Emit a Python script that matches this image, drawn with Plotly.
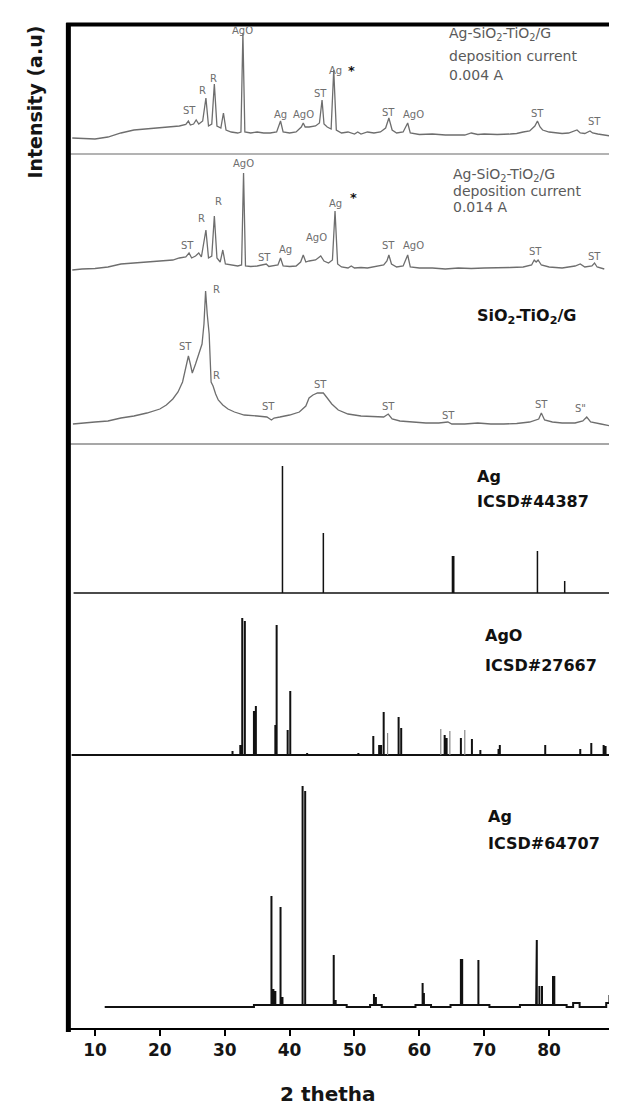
import plotly.graph_objects as go

# ---------------- data (2-theta in degrees, intensity in a.u.) ----------------
# Ag-SiO2-TiO2/G, deposition current 0.004 A
tt_004 = [6.5, 8, 10, 12, 14, 16, 18, 20, 22, 23, 24, 24.4, 24.7, 25.2, 25.6, 26, 26.6, 27.1, 27.5, 28.0,
          28.4, 28.8, 29.4, 29.8, 30.2, 31, 32, 32.5, 32.8, 33.1, 34, 35, 36, 37, 38, 38.6, 39.0, 40, 41, 41.8,
          42.1, 42.4, 43, 44, 44.6, 45.0, 45.3, 45.8, 46.4, 46.8, 47.2, 48, 49, 50, 50.5, 51, 52, 53, 54, 54.8,
          55.3, 55.8, 56.5, 57.5, 58.2, 58.6, 60, 62, 64, 66, 67, 68, 68.5, 69, 70, 72, 74, 75, 76, 77,
          77.8, 78.2, 78.6, 79, 80, 81, 82, 83, 83.8, 84.3, 84.8, 85.5, 86.3, 86.7, 87.5, 89.5]
int_004 = [16, 15.5, 15, 17, 21, 24, 25, 26, 27, 28, 29.5, 33, 29, 30, 34, 30, 33, 56, 28, 30,
           70, 28, 26, 41, 24, 22, 21, 22, 121, 22, 21, 22, 21, 21, 22, 33, 22, 21, 22, 27,
           31, 27, 27, 28, 31, 54, 30, 27, 25, 84, 24, 21, 22, 20, 22, 20, 22, 21, 22, 26,
           36, 24, 21, 22, 31, 21, 19.5, 20, 19, 19.5, 19, 21, 20, 19.5, 20, 19.5, 20, 20.5, 22, 23,
           28, 33, 27, 24, 22, 21, 20.5, 21, 23, 24, 21, 20.5, 23, 21, 20, 18]

# Ag-SiO2-TiO2/G, deposition current 0.014 A
tt_014 = [6.5, 8, 10, 12, 14, 16, 18, 20, 22, 23, 24, 24.5, 24.9, 25.5, 26, 26.4, 27.1, 27.5, 28, 28.4,
          28.8, 29.3, 29.7, 30.1, 31, 32, 32.6, 32.9, 33.2, 34, 35, 36.4, 36.8, 37.5, 38.2, 38.6, 39, 40, 41, 41.7,
          42.1, 42.5, 43, 44, 44.8, 45.3, 46, 46.6, 47, 47.4, 48, 49, 49.5, 50, 51, 52, 53, 54.5, 55, 55.3,
          55.7, 56.5, 57.5, 58.2, 58.6, 60, 62, 64, 66, 68, 70, 72, 74, 76, 77.3, 77.7, 78.0, 78.3, 78.8, 80,
          82, 84, 84.8, 85.5, 86.6, 87, 87.4, 88.5]
int_014 = [18, 19, 19.5, 21, 24, 25, 26, 26.5, 28, 30, 31, 35, 30, 32, 35, 31, 58, 30, 32, 72,
           30, 26, 38, 24, 23, 22, 23, 115, 22, 21.5, 22, 24, 21.5, 22, 23, 30, 22, 21.5, 22, 26,
           33, 26, 27, 28, 32, 27, 25, 28, 77, 24, 21, 20, 22, 20, 20.5, 20, 21, 23, 27, 33,
           24, 21, 22, 33, 21, 20, 20, 19, 20, 19.5, 20, 20, 20.5, 21, 23, 28, 26, 28, 23, 21,
           20, 22, 24, 21, 22, 25, 21, 19]

# SiO2-TiO2/G
tt_stg = [6.6, 8, 10, 12, 14, 16, 18, 20, 21, 22, 22.8, 23.5, 24.0, 24.4, 24.7, 25.0, 25.5, 26.0, 26.5, 26.8,
          27.05, 27.3, 27.6, 27.9, 28.2, 28.6, 29, 29.7, 30.5, 31.5, 33, 35, 36.5, 37.2, 37.6, 38.5, 40, 41.5, 42.5, 43,
          43.6, 44.3, 45.2, 45.8, 46.5, 47.5, 49, 51, 53, 54.5, 55.2, 55.8, 57, 59, 61, 63, 64.4, 65, 67, 69,
          71, 73, 75, 77, 78.4, 78.8, 79.3, 80.5, 82, 84, 85.2, 85.8, 86.4, 88, 89.5]
int_stg = [20, 21, 22, 23, 26, 28, 31, 35, 39, 45, 52, 62, 75, 88, 80, 71, 80, 90, 100, 120,
           153, 130, 110, 62, 58, 50, 44, 39, 35, 32, 29, 28, 27, 24, 26, 27, 29, 32, 38, 46,
           49, 51, 51, 46, 40, 34, 30, 28, 27, 27, 30, 25, 23, 22, 21, 21, 22, 20, 20, 21,
           20, 20, 20.5, 22, 25, 31, 24, 22, 21, 21, 23, 27, 22, 20, 18]

# Ag ICSD#44387 reference lines
ag1_pos = [38.9, 45.2, 65.1, 65.3, 78.2, 82.4]
ag1_int = [127, 60, 37, 37, 42, 12]

# AgO ICSD#27667 reference lines
ago_pos = [31.2, 32.4, 32.7, 33.1, 34.5, 34.8, 37.8, 38.0, 39.7, 40.1, 42.7, 50.6, 52.9, 53.8, 54.1, 54.5,
           56.8, 57.2, 63.9, 64.2, 66.4, 68.1, 69.4, 72.2, 72.4, 79.4, 84.8, 86.5, 88.4, 88.7]
ago_int = [4, 10, 137, 134, 44, 49, 30, 130, 25, 64, 2, 2, 19, 10, 10, 43,
           38, 27, 20, 17, 17, 16, 5, 6, 10, 10, 6, 12, 10, 9]
ago_pos_minor = [55.1, 63.3, 64.7, 67.0]
ago_int_minor = [22, 26, 24, 25]

# Ag ICSD#64707 reference lines and stepped background
ag2_pos = [37.2, 37.5, 37.8, 38.6, 38.9, 42.0, 42.4, 46.8, 47.1, 53.0, 53.3, 60.5, 60.7, 66.4, 66.6,
           69.1, 78.0, 78.1, 78.5, 78.9, 80.6, 80.8, 89.3]
ag2_int = [109, 16, 14, 98, 8, 219, 214, 50, 5, 11, 8, 22, 12, 46, 46,
           45, 19, 65, 19, 19, 29, 29, 8]
ag2_bg_x = [11.5, 34.5, 48.8, 52.4, 54.2, 59.4, 61.8, 64.8, 70.8, 75.5, 82.7, 83.7, 84.7, 88.8]
ag2_bg = [0, 2, 0, 2, 0, 2, 0, 2, 0, 2, 0, 4, 0, 4]

x_ticks = [10, 20, 30, 40, 50, 60, 70, 80, 90]

# ---------------- layout constants ----------------
OFF = {"p1": 874, "p2": 740, "p3": 584, "p4": 435, "p5": 273, "p6": 21}
GRAY = "#6e6e6e"


def sticks(pos, hts, x0, x1, bg_x=None, bg=None):
    """Build a stick-pattern line: baseline with vertical lines at each reflection."""
    if bg_x is None:
        bg_x, bg = [x0], [0]

    def level(x):
        lv = bg[0]
        for bx, b in zip(bg_x, bg):
            if bx <= x:
                lv = b
        return lv

    ev = [(x0, 0, [(x0, level(x0))])]
    for i in range(1, len(bg_x)):
        ev.append((bg_x[i], 1, [(bg_x[i], bg[i - 1]), (bg_x[i], bg[i])]))
    for p, h in zip(pos, hts):
        b = level(p)
        ev.append((p, 2, [(p, b), (p, b + h), (p, b)]))
    ev.append((x1, 3, [(x1, level(x1))]))
    ev.sort(key=lambda e: (e[0], e[1]))
    xs, ys = [], []
    for _, _, pts in ev:
        for a, b in pts:
            xs.append(a)
            ys.append(b)
    return xs, ys


fig = go.Figure()

# experimental patterns
for tt, it, key in [(tt_004, int_004, "p1"), (tt_014, int_014, "p2"), (tt_stg, int_stg, "p3")]:
    fig.add_trace(go.Scatter(x=tt, y=[OFF[key] + v for v in it], mode="lines",
                             line=dict(color=GRAY, width=1.3), showlegend=False, hoverinfo="skip"))

# reference patterns
x, y = sticks(ag1_pos, ag1_int, 6.7, 89.6)
fig.add_trace(go.Scatter(x=x, y=[OFF["p4"] + v for v in y], mode="lines",
                         line=dict(color="#111", width=1.5), showlegend=False, hoverinfo="skip"))
x, y = sticks(ago_pos, ago_int, 6.4, 89.6)
fig.add_trace(go.Scatter(x=x, y=[OFF["p5"] + v for v in y], mode="lines",
                         line=dict(color="#111", width=2), showlegend=False, hoverinfo="skip"))
mx, my = [], []
for p, h in zip(ago_pos_minor, ago_int_minor):
    mx += [p, p, None]
    my += [OFF["p5"], OFF["p5"] + h, None]
fig.add_trace(go.Scatter(x=mx, y=my, mode="lines", line=dict(color="#888", width=1.2),
                         showlegend=False, hoverinfo="skip"))
x, y = sticks(ag2_pos, ag2_int, 11.5, 89.5, ag2_bg_x, ag2_bg)
fig.add_trace(go.Scatter(x=x, y=[OFF["p6"] + v for v in y], mode="lines",
                         line=dict(color="#111", width=2), showlegend=False, hoverinfo="skip"))

ann = []


def lab(txt, xx, yy, size=10, color=GRAY, anchor="center", bold=False, family="DejaVu Sans"):
    ann.append(dict(text=(f"<b>{txt}</b>" if bold else txt), x=xx, y=yy, xref="x", yref="y",
                    showarrow=False, xanchor=anchor, yanchor="middle",
                    font=dict(size=size, color=color, family=family)))


# peak labels panel 1
for t, xx, v in [("AgO", 32.8, 124), ("ST", 24.5, 44), ("R", 26.5, 64), ("R", 28.2, 76), ("Ag", 38.6, 40),
                 ("AgO", 42.1, 40), ("ST", 44.8, 61), ("Ag", 47.1, 84), ("ST", 55.2, 42), ("AgO", 59.1, 40),
                 ("ST", 78.2, 41), ("ST", 87.0, 33)]:
    lab(t, xx, OFF["p1"] + v)
lab("*", 49.6, OFF["p1"] + 84, size=13, color="#111", bold=True)
# peak labels panel 2
for t, xx, v in [("AgO", 32.9, 125), ("ST", 24.2, 43), ("R", 26.4, 70), ("R", 29.1, 87), ("ST", 36.1, 31),
                 ("Ag", 39.4, 39), ("AgO", 44.2, 51), ("Ag", 47.0, 85), ("ST", 55.3, 43), ("AgO", 59.1, 43),
                 ("ST", 77.9, 37), ("ST", 87.0, 32)]:
    lab(t, xx, OFF["p2"] + v)
lab("*", 49.9, OFF["p2"] + 91, size=13, color="#111", bold=True)
# peak labels panel 3
for t, xx, v in [("ST", 23.9, 98), ("R", 28.7, 155), ("R", 28.8, 69), ("ST", 36.7, 38), ("ST", 44.8, 60),
                 ("ST", 55.3, 38), ("ST", 64.5, 29), ("ST", 78.8, 40), ('S"', 84.8, 36)]:
    lab(t, xx, OFF["p3"] + v)

# sample / reference titles
for t, v in [("Ag-SiO<sub>2</sub>-TiO<sub>2</sub>/G", 120), ("deposition current", 98), ("0.004 A", 79)]:
    lab(t, 64.3, OFF["p1"] + v, size=14, color="#5a5a5a", anchor="left")
for t, v in [("Ag-SiO<sub>2</sub>-TiO<sub>2</sub>/G", 113), ("deposition current", 97), ("0.014 A", 81)]:
    lab(t, 64.8, OFF["p2"] + v, size=14, color="#5a5a5a", anchor="left")
lab("SiO<sub>2</sub>-TiO<sub>2</sub>/G", 68.6, OFF["p3"] + 128, size=16, color="#111", anchor="left", bold=True)
lab("Ag", 68.5, OFF["p4"] + 117, size=16, color="#111", anchor="left", bold=True)
lab("ICSD#44387", 68.5, OFF["p4"] + 92, size=16, color="#111", anchor="left", bold=True)
lab("AgO", 69.8, OFF["p5"] + 120, size=16, color="#111", anchor="left", bold=True)
lab("ICSD#27667", 69.8, OFF["p5"] + 90, size=16, color="#111", anchor="left", bold=True)
lab("Ag", 70.2, OFF["p6"] + 191, size=16, color="#111", anchor="left", bold=True)
lab("ICSD#64707", 70.2, OFF["p6"] + 164, size=16, color="#111", anchor="left", bold=True)

# axis titles
ann.append(dict(text="<b>Intensity (a.u)</b>", x=-0.064, y=0.921, xref="paper", yref="paper",
                textangle=-90, showarrow=False, xanchor="center", yanchor="middle",
                font=dict(size=19, color="#151515", family="DejaVu Sans")))
ann.append(dict(text="<b>2 thetha</b>", x=0.474, y=-0.0655, xref="paper", yref="paper",
                showarrow=False, xanchor="center", yanchor="middle",
                font=dict(size=20, color="#151515", family="DejaVu Sans")))

shapes = [
    # panel separators
    dict(type="line", xref="paper", yref="y", x0=0, x1=1, y0=OFF["p1"], y1=OFF["p1"],
         line=dict(color="#9a9a9a", width=1.5)),
    dict(type="line", xref="paper", yref="y", x0=0, x1=1, y0=OFF["p3"], y1=OFF["p3"],
         line=dict(color="#8a8a8a", width=1.5)),
    # frame
    dict(type="line", xref="paper", yref="paper", x0=-0.003, x1=-0.003, y0=-0.004, y1=1.0,
         line=dict(color="#000", width=5)),
    dict(type="line", xref="paper", yref="paper", x0=-0.007, x1=1.003, y0=0.9985, y1=0.9985,
         line=dict(color="#000", width=4)),
    dict(type="line", xref="paper", yref="paper", x0=0.999, x1=0.999, y0=-0.004, y1=1.0,
         line=dict(color="#000", width=4)),
]

fig.update_layout(
    width=617, height=1106,
    margin=dict(l=62, r=11, t=15, b=86),
    paper_bgcolor="white", plot_bgcolor="white",
    showlegend=False,
    annotations=ann, shapes=shapes,
    xaxis=dict(range=[6.15, 90], tickvals=x_ticks, ticktext=[f"<b>{v}</b>" for v in x_ticks],
               ticks="outside", ticklen=6, tickwidth=2, tickcolor="#000",
               showline=True, linewidth=2, linecolor="#000", showgrid=False, zeroline=False,
               tickfont=dict(size=17, color="#151515", family="DejaVu Sans")),
    yaxis=dict(range=[0, 1005], visible=False, showgrid=False, zeroline=False),
)

fig.write_html("out.html")
